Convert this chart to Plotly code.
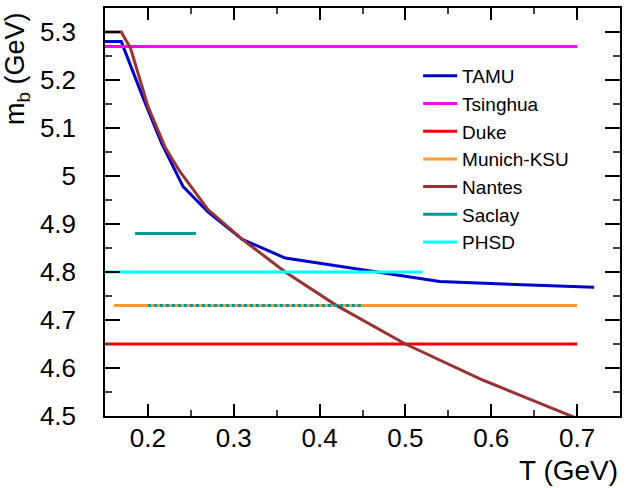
import plotly.graph_objects as go

# ---- data ----
tamu_T = [0.15, 0.169, 0.195, 0.216, 0.241, 0.27, 0.31, 0.36, 0.54, 0.72]
tamu_m = [5.28, 5.28, 5.16, 5.068, 4.978, 4.925, 4.868, 4.829, 4.78, 4.768]

tsinghua_T = [0.15, 0.70]
tsinghua_m = [5.27, 5.27]

duke_T = [0.15, 0.70]
duke_m = [4.65, 4.65]

munich_T = [0.16, 0.70]
munich_m = [4.73, 4.73]

nantes_T = [0.15, 0.169, 0.18, 0.20, 0.22, 0.237, 0.27, 0.31, 0.36, 0.42, 0.50, 0.59, 0.70]
nantes_m = [5.30, 5.30, 5.265, 5.145, 5.06, 5.01, 4.93, 4.868, 4.80, 4.73, 4.65, 4.575, 4.495]

saclay_T = [0.185, 0.256]
saclay_m = [4.88, 4.88]
saclay2_T = [0.20, 0.45]
saclay2_m = [4.73, 4.73]

phsd_T = [0.15, 0.52]
phsd_m = [4.80, 4.80]

names = ["TAMU", "Tsinghua", "Duke", "Munich-KSU", "Nantes", "Saclay", "PHSD"]
colors = ["#0000cc", "#ff00ff", "#ff0000", "#ff9933", "#993333", "#009999", "#00ffff"]

x_range = [0.15, 0.75]
y_range = [4.5, 5.35]
x_ticks = [0.2, 0.3, 0.4, 0.5, 0.6, 0.7]
y_ticks = [4.5, 4.6, 4.7, 4.8, 4.9, 5.0, 5.1, 5.2, 5.3]
y_ticklabels = ["4.5", "4.6", "4.7", "4.8", "4.9", "5", "5.1", "5.2", "5.3"]

series = [
    (tamu_T, tamu_m),
    (tsinghua_T, tsinghua_m),
    (duke_T, duke_m),
    (munich_T, munich_m),
    (nantes_T, nantes_m),
    (saclay_T, saclay_m),
    (phsd_T, phsd_m),
]

FONT = "Liberation Sans, Arial, sans-serif"

fig = go.Figure()
for (xs, ys), nm, c in zip(series, names, colors):
    fig.add_trace(go.Scatter(x=xs, y=ys, mode="lines", name=nm,
                             line=dict(color=c, width=3), legendgroup=nm))
    if nm == "Saclay":
        fig.add_trace(go.Scatter(x=saclay2_T, y=saclay2_m, mode="lines", name=nm,
                                 line=dict(color=c, width=3, dash="dot"),
                                 legendgroup=nm, showlegend=False))

def axis_style(ticklen, minorlen):
    return dict(
        showgrid=False, zeroline=False, showline=True, linecolor="black", linewidth=1.5,
        mirror="allticks", ticks="inside", ticklen=ticklen, tickwidth=1.5, tickcolor="black",
        tickfont=dict(family=FONT, size=26, color="black"),
        minor=dict(ticks="inside", ticklen=minorlen, tickwidth=1.5, tickcolor="#444",
                   nticks=5),
    )

fig.update_xaxes(range=x_range, tickvals=x_ticks, ticktext=[f"{v:.1f}" for v in x_ticks],
                 ticklabelstandoff=-2, **axis_style(12, 6))
fig.update_yaxes(range=y_range, tickvals=y_ticks, ticktext=y_ticklabels,
                 ticklabelstandoff=22, **axis_style(15, 7.5))

fig.update_layout(
    width=626, height=488,
    margin=dict(l=105, r=4, t=8, b=72),
    plot_bgcolor="white", paper_bgcolor="white",
    font=dict(family=FONT, color="black"),
    showlegend=True,
    legend=dict(x=0.608, y=0.88, xanchor="left", yanchor="top",
                font=dict(family=FONT, size=19, color="black"), bgcolor="rgba(0,0,0,0)",
                tracegroupgap=0, itemwidth=34),
    annotations=[
        dict(text="T (GeV)", xref="paper", yref="paper", x=1.0, y=-0.09,
             xanchor="right", yanchor="top", showarrow=False,
             font=dict(family=FONT, size=28, color="black")),
        dict(text="m<sub>b</sub> (GeV)", xref="paper", yref="paper", x=-0.172, y=0.995,
             xanchor="center", yanchor="top", textangle=-90, showarrow=False,
             font=dict(family=FONT, size=27, color="black")),
    ],
)

fig.write_html("out.html", config={"displayModeBar": False},
               post_script="document.body.style.margin='0';")
